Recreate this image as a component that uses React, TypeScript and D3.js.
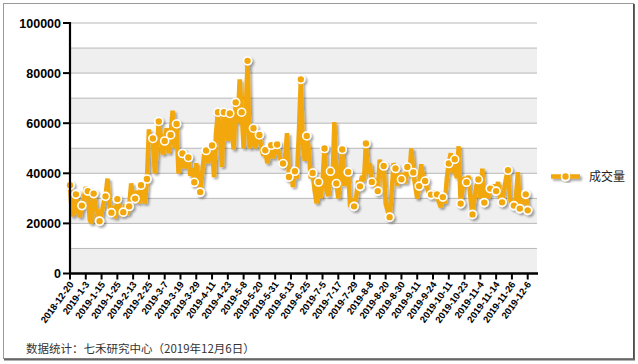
import React from "react";
import * as d3 from "d3";

// 成交量 (thousands), one value per trading day, 2018-12-20 .. 2019-12-6
const volumeK = [
  35.2, 23.0, 24.5, 31.6, 25.0, 22.5, 27.1, 30.0, 34.5, 32.9,
  21.5, 20.0, 31.9, 26.0, 25.0, 20.9, 24.0, 28.0, 30.8, 37.9,
  27.0, 24.3, 27.0, 22.0, 29.7, 26.0, 23.0, 24.5, 27.5, 23.5,
  26.8, 36.0, 30.0, 29.9, 33.0, 28.0, 35.2, 31.0, 28.0, 37.7,
  57.5, 52.0, 53.9, 40.0, 50.0, 60.7, 55.0, 47.5, 52.9, 58.0,
  48.0, 55.3, 65.0, 50.0, 59.7, 40.0, 45.0, 47.9, 42.0, 44.0,
  46.3, 39.0, 42.0, 36.4, 44.0, 38.0, 32.5, 40.0, 47.5, 49.1,
  44.0, 50.0, 51.1, 38.5, 56.0, 64.4, 55.0, 42.5, 64.4, 58.0,
  53.0, 63.9, 56.0, 49.5, 68.3, 60.0, 77.5, 64.4, 50.0, 62.0,
  84.9, 50.0, 52.0, 58.0, 50.0, 56.0, 55.3, 50.0, 47.0, 49.2,
  44.0, 48.0, 51.2, 46.0, 50.0, 51.5, 47.0, 45.0, 43.9, 46.0,
  56.0, 38.5, 41.0, 34.5, 40.8, 38.0, 56.0, 77.5, 52.0, 45.0,
  54.9, 50.0, 38.0, 40.1, 33.0, 28.0, 36.5, 30.0, 37.0, 49.9,
  33.0, 31.0, 40.8, 35.0, 60.5, 35.9, 30.0, 42.0, 49.5, 35.0,
  40.0, 40.5, 26.5, 30.0, 26.8, 30.0, 37.0, 34.8, 39.0, 37.0,
  51.9, 40.0, 44.0, 36.5, 38.0, 34.0, 32.9, 45.5, 40.0, 42.9,
  28.0, 25.0, 22.5, 32.0, 44.0, 41.9, 35.0, 40.0, 37.6, 40.0,
  36.0, 42.5, 39.0, 49.9, 40.3, 35.0, 29.9, 34.9, 43.6, 38.0,
  36.9, 34.0, 32.0, 31.5, 33.0, 30.0, 31.6, 28.5, 26.5, 30.5,
  28.0, 38.0, 43.9, 48.0, 40.0, 45.6, 38.0, 50.8, 27.9, 34.0,
  38.5, 36.4, 39.0, 30.0, 23.6, 30.0, 35.0, 37.5, 30.0, 41.9,
  28.3, 33.0, 30.0, 33.9, 32.0, 35.5, 32.9, 36.5, 30.0, 28.4,
  33.0, 38.0, 41.2, 30.0, 27.0, 27.1, 30.0, 40.5, 25.9, 29.0,
  28.0, 31.6, 25.2,
];

// every 8th trading day is labelled
const tickLabels = [
  "2018-12-20", "2019-1-3", "2019-1-15", "2019-1-25", "2019-2-13", "2019-2-25",
  "2019-3-7", "2019-3-19", "2019-3-29", "2019-4-11", "2019-4-23", "2019-5-8",
  "2019-5-20", "2019-5-31", "2019-6-13", "2019-6-25", "2019-7-5", "2019-7-17",
  "2019-7-29", "2019-8-8", "2019-8-20", "2019-8-30", "2019-9-11", "2019-9-24",
  "2019-10-11", "2019-10-23", "2019-11-4", "2019-11-14", "2019-11-26", "2019-12-6",
];
const tickStep = 8;
const yTicks = [0, 20000, 40000, 60000, 80000, 100000];
const gridValues = d3.range(0, 100001, 10000);

const seriesName = "成交量";
const footnote = "数据统计：七禾研究中心（2019年12月6日）";

const ORANGE = "#F2A70C";

export default function App() {
  const values = volumeK.map((v) => v * 1000);
  const n = values.length;

  const left = 70;
  const right = 537;
  const x = d3.scaleLinear().domain([0, n - 1]).range([left, 527.7]);
  const y = d3.scaleLinear().domain([0, 100000]).range([273.5, 23]);

  const line = d3
    .line<number>()
    .x((_, i) => x(i))
    .y((d) => y(d));

  const markers = values
    .map((v, i) => ({ v, i }))
    .filter((d) => d.i % 3 === 0 || d.i === n - 1);

  const bands = gridValues.slice(0, -1).filter((_, i) => i % 2 === 0);

  return (
    <svg
      width={638}
      height={364}
      style={{ position: "absolute", left: 0, top: 0, background: "#fff" }}
      fontFamily="'Liberation Sans', Arial, sans-serif"
    >
      <defs>
        <filter id="shadow" x="-10%" y="-10%" width="130%" height="130%">
          <feDropShadow dx="2" dy="2" stdDeviation="1.2" floodColor="#000" floodOpacity="0.35" />
        </filter>
      </defs>

      {/* frame */}
      <rect x={3.5} y={3.5} width={630} height={355} fill="#fff" stroke="#9a9a9a" />
      <line x1={634} y1={4} x2={634} y2={360} stroke="#333" strokeWidth={1.5} />
      <line x1={4} y1={359.5} x2={635} y2={359.5} stroke="#666" strokeWidth={2} />

      {/* alternating bands */}
      {bands.map((b) => (
        <rect
          key={b}
          x={left}
          y={y(b + 10000)}
          width={right - left}
          height={y(b) - y(b + 10000)}
          fill="#efefef"
        />
      ))}
      {gridValues.map((g) => (
        <line key={g} x1={left} x2={right} y1={y(g)} y2={y(g)} stroke="#b8b8b8" strokeWidth={1} />
      ))}

      {/* series */}
      <g filter="url(#shadow)">
        <path d={line(values) || ""} fill="none" stroke={ORANGE} strokeWidth={4.5} strokeLinejoin="bevel" />
        {markers.map((m) => (
          <circle key={m.i} cx={x(m.i)} cy={y(m.v)} r={4} fill={ORANGE} stroke="#fff" strokeWidth={1.6} />
        ))}
      </g>

      {/* y axis */}
      <line x1={left} x2={left} y1={y(100000) - 1} y2={y(0) + 1} stroke="#000" strokeWidth={2.2} />
      {yTicks.map((t) => (
        <g key={t}>
          <line x1={left - 7} x2={left} y1={y(t)} y2={y(t)} stroke="#000" strokeWidth={2} />
          <text x={left - 9} y={y(t)} dy="0.36em" textAnchor="end" fontSize={12.5} fontWeight="bold" fill="#000">
            {t}
          </text>
        </g>
      ))}

      {/* x axis */}
      <line x1={left - 1} x2={right + 1} y1={y(0)} y2={y(0)} stroke="#000" strokeWidth={2.4} />
      {tickLabels.map((lab, i) => {
        const tx = x(i * tickStep);
        return (
          <g key={lab}>
            <line x1={tx} x2={tx} y1={y(0)} y2={y(0) + 6} stroke="#000" strokeWidth={2} />
            <text
              transform={`translate(${tx + 4},${y(0) + 11}) rotate(-54)`}
              textAnchor="end"
              fontSize={9.5}
              fontWeight="bold"
              fill="#000"
            >
              {lab}
            </text>
          </g>
        );
      })}

      {/* legend */}
      <g filter="url(#shadow)">
        <line x1={551} x2={580} y1={176.5} y2={176.5} stroke={ORANGE} strokeWidth={4.5} />
        <circle cx={565.5} cy={176.5} r={4} fill={ORANGE} stroke="#fff" strokeWidth={1.6} />
      </g>
      <text x={589} y={176.5} dy="0.36em" fontSize={12} fill="#222" fontFamily="'Noto Sans CJK SC', sans-serif">
        {seriesName}
      </text>

      <text x={26} y={349} dy="0.36em" fontSize={11.5} fill="#333" fontFamily="'Noto Sans CJK SC', sans-serif">
        {footnote}
      </text>
    </svg>
  );
}
